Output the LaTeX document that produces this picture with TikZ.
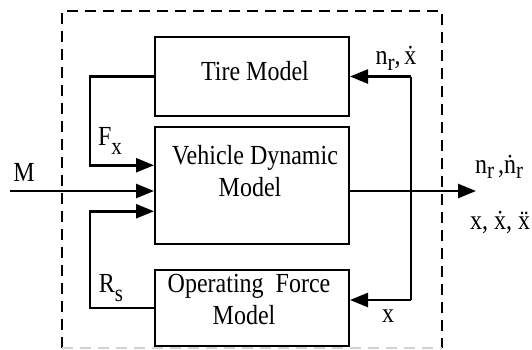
\documentclass[tikz,border=0pt]{standalone}
\usepackage{fontspec}
\setmainfont{Liberation Serif}
\usetikzlibrary{arrows.meta}
\newcommand{\lsub}[2][8pt]{\raisebox{-#1}{\fontsize{21}{21}\selectfont #2}}
\newcommand{\tall}[1]{\scalebox{1}[1.15]{#1}}
\begin{document}
\begin{tikzpicture}[x=1pt, y=-1pt,
    blk/.style={draw, line width=2pt, inner sep=0pt, minimum width=194pt},
    txt/.style={font=\fontsize{24}{28}\selectfont, anchor=base, inner sep=0pt},
    conn/.style={line width=2.5pt},
    arr/.style={conn, -{Triangle[length=18pt, width=14pt]}},
    frame/.style={line width=2pt, dash pattern=on 11pt off 7pt}]
  \useasboundingbox (0,0) rectangle (532,349);
  % frame of the model
  \draw[frame] (62,348) -- (62,11) -- (442,11) -- (442,348);
  \draw[frame, gray!35] (62,348) -- (442,348);
  % blocks
  \node[blk, minimum height=79pt] (tire) at (252,76.5) {};
  \node[blk, minimum height=116.5pt] (vehicle) at (252,185.25) {};
  \node[blk, minimum height=76pt] (opf) at (252,308) {};
  \node[txt] (tiretxt) at (255,80.8) {\tall{Tire Model}};
  \node[txt] (vehtxta) at (255,164.7) {\tall{Vehicle Dynamic}};
  \node[txt] (vehtxtb) at (250,196.3) {\tall{Model}};
  \node[txt] (opftxta) at (249,292) {\tall{Operating\ \ Force}};
  \node[txt] (opftxtb) at (244,324.4) {\tall{Model}};
  % signals
  \node[txt] (mlab) at (24,181.7) {\tall{M}};
  \node[txt] (fxlab) at (110,145) {\tall{F\lsub{x}}};
  \node[txt] (rslab) at (111,292) {\tall{R\lsub{s}}};
  \node[txt] (tirein) at (396,64.5) {\tall{n\lsub[5pt]{r},\,\.{x}}};
  \node[txt] (opfin) at (388,322.7) {\tall{x}};
  \node[txt] (outa) at (499,173) {\tall{n\lsub[5pt]{r}\,,\.{n}\lsub[5pt]{r}}};
  \node[txt] (outb) at (500,229) {\tall{x, \.{x}, \"{x}}};
  % connectors
  \coordinate (min) at (10,191);
  \coordinate (out) at (476,191);
  \coordinate (rtop) at (411,76.5);
  \coordinate (rbot) at (411,300);
  \draw[arr] (tire.west) -- ++(-64,0) |- ([yshift=20pt]vehicle.west);
  \draw[arr] (min) -- (min -| vehicle.west);
  \draw[arr] (opf.west) -- ++(-64,0) |- ([yshift=-26pt]vehicle.west);
  \draw[arr] (out -| vehicle.east) -- (out);
  \draw[conn] (rtop) -- (rbot);
  \draw[arr] (rtop) -- (tire.east);
  \draw[arr] (rbot) -- (rbot -| opf.east);
\end{tikzpicture}
\end{document}
